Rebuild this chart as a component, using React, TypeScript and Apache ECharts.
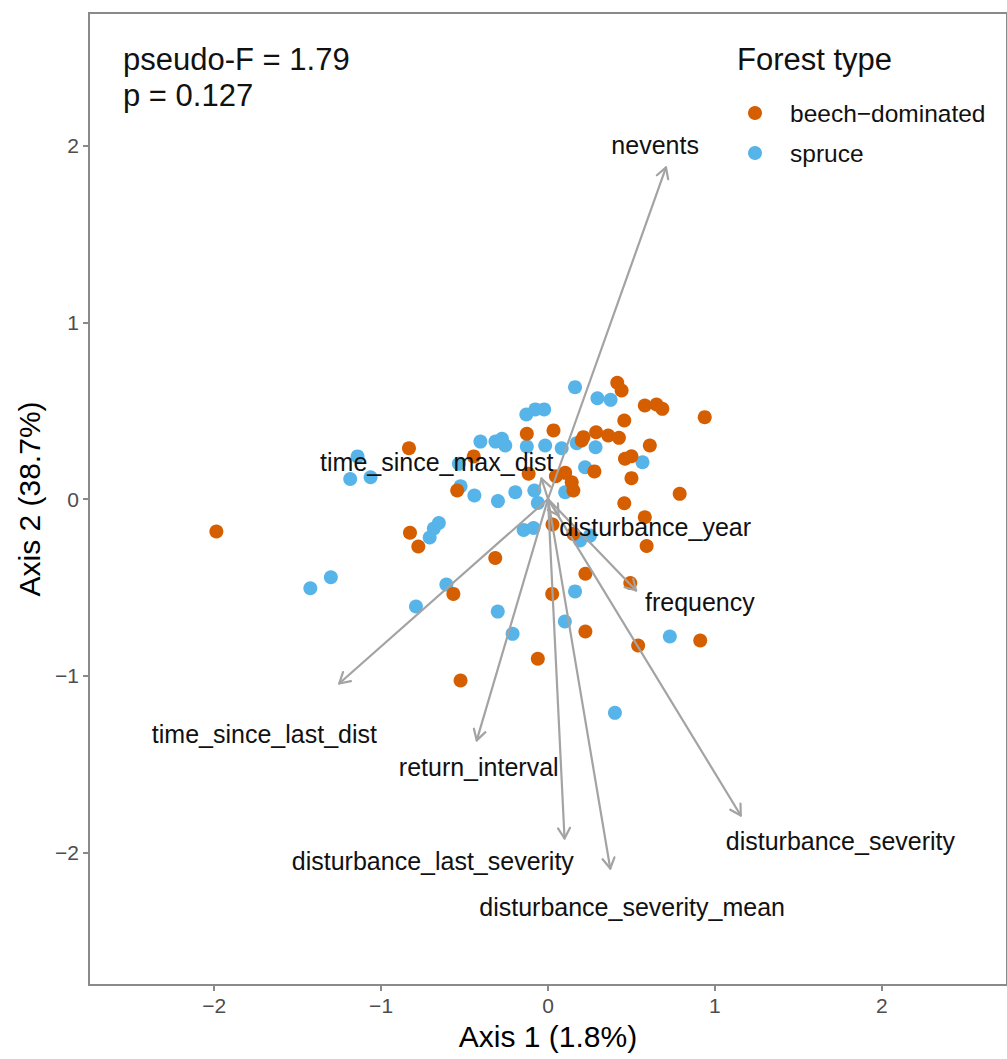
import React, { useEffect, useRef } from "react";
import * as echarts from "echarts";

// ---- Data ----
const beechX = [0.415, 0.441, 0.580, 0.650, 0.685, 0.939, 0.457, -0.127, 0.033, 0.202, 0.212, 0.288, 0.361, 0.425, 0.610, -0.833, -0.445, 0.461, 0.500, -0.116, 0.047, 0.103, 0.142, 0.152, 0.278, 0.500, 0.789, -0.544, 0.457, 0.580, 0.591, 0.027, 0.152, -0.827, -0.777, -0.316, -0.567, 0.224, 0.493, 0.025, 0.224, 0.540, 0.912, -0.061, -0.524, -1.987];
const beechY = [0.658, 0.614, 0.529, 0.535, 0.510, 0.463, 0.444, 0.369, 0.388, 0.331, 0.350, 0.378, 0.359, 0.346, 0.303, 0.287, 0.241, 0.228, 0.242, 0.143, 0.129, 0.148, 0.095, 0.048, 0.156, 0.118, 0.029, 0.048, -0.024, -0.103, -0.266, -0.144, -0.197, -0.191, -0.269, -0.334, -0.537, -0.423, -0.475, -0.537, -0.750, -0.829, -0.801, -0.904, -1.027, -0.184];

const spruceX = [0.162, 0.296, 0.375, -0.130, -0.076, -0.023, -0.405, -0.315, -0.276, -0.256, -0.127, -0.017, 0.082, 0.172, 0.285, 0.566, -0.524, -0.441, -0.300, -0.196, -0.082, -0.061, 0.103, 0.222, -0.654, -0.684, -0.709, -0.146, -0.087, 0.192, 0.252, -0.609, -0.791, -0.301, 0.162, 0.101, -0.534, -1.141, -1.185, -1.063, -1.301, -1.424, -0.212, 0.730, 0.401];
const spruceY = [0.633, 0.570, 0.561, 0.478, 0.507, 0.507, 0.325, 0.325, 0.341, 0.303, 0.297, 0.303, 0.287, 0.316, 0.293, 0.208, 0.072, 0.020, -0.012, 0.038, 0.048, -0.022, 0.038, 0.180, -0.136, -0.167, -0.218, -0.175, -0.164, -0.235, -0.207, -0.484, -0.608, -0.637, -0.523, -0.693, 0.199, 0.241, 0.113, 0.123, -0.443, -0.505, -0.763, -0.778, -1.210];

const arrowNames = ["nevents", "time_since_max_dist", "disturbance_year", "frequency", "time_since_last_dist", "return_interval", "disturbance_last_severity", "disturbance_severity_mean", "disturbance_severity"];
const arrowX = [0.707, -0.039, 0.063, 0.528, -1.251, -0.427, 0.099, 0.373, 1.155];
const arrowY = [1.876, 0.116, -0.093, -0.518, -1.044, -1.366, -1.921, -2.091, -1.791];
const labelX = [0.642, -0.666, 0.642, 0.910, -1.699, -0.415, -0.690, 0.504, 1.752];
const labelY = [2.001, 0.207, -0.161, -0.580, -1.327, -1.519, -2.046, -2.306, -1.938];

const tickValues = [-2, -1, 0, 1, 2];
const groupNames = ["beech\u2212dominated", "spruce"];
const statLines = ["pseudo-F = 1.79", "p = 0.127"];
const legendTitle = "Forest type";
const xTitle = "Axis 1 (1.8%)";
const yTitle = "Axis 2 (38.7%)";

const FONT = "Liberation Sans, Arial, Helvetica, sans-serif";
const ORANGE = "#D55E00";
const BLUE = "#56B4E9";
const ARROW = "#A3A3A3";

const fmt = (v: number) => (v < 0 ? "\u2212" + Math.abs(v) : String(v));

export default function App() {
  const ref = useRef<HTMLDivElement>(null);
  useEffect(() => {
    const chart = echarts.init(ref.current!, null, { renderer: "svg" });
    const zip = (xs: number[], ys: number[]) => xs.map((x, i) => [x, ys[i]]);
    const axisCommon = {
      type: "value", min: -2.75, max: 2.75,
      splitLine: { show: false },
      axisLine: { show: false, onZero: false },
      axisTick: { show: true, length: 6, customValues: tickValues, lineStyle: { color: "#8a8a8a", width: 2 } },
      axisLabel: { customValues: tickValues, formatter: fmt, color: "#4D4D4D", fontSize: 21, fontFamily: FONT, margin: 10 },
      nameLocation: "middle",
      nameTextStyle: { color: "#000", fontSize: 30, fontFamily: FONT },
    };
    const option: any = {
      animation: false,
      backgroundColor: "#ffffff",
      grid: {
        left: 89, top: 13, width: 921, height: 972,
        show: true, borderColor: "#8a8a8a", borderWidth: 2, backgroundColor: "transparent",
      },
      xAxis: { ...axisCommon, name: xTitle, nameGap: 36 },
      yAxis: { ...axisCommon, name: yTitle, nameGap: 40, nameRotate: 90 },
      series: [
        {
          type: "scatter", name: groupNames[1], data: zip(spruceX, spruceY),
          symbolSize: 14, itemStyle: { color: BLUE, opacity: 1 }, z: 2,
        },
        {
          type: "scatter", name: groupNames[0], data: zip(beechX, beechY),
          symbolSize: 14, itemStyle: { color: ORANGE, opacity: 1 }, z: 2,
        },
        {
          type: "custom", z: 3,
          data: zip(arrowX, arrowY),
          renderItem: (params: any, api: any) => {
            const s = api.coord([0, 0]);
            const e = api.coord([api.value(0), api.value(1)]);
            const ang = Math.atan2(e[1] - s[1], e[0] - s[0]);
            const L = 12, a = Math.PI / 6;
            const p1 = [e[0] - L * Math.cos(ang - a), e[1] - L * Math.sin(ang - a)];
            const p2 = [e[0] - L * Math.cos(ang + a), e[1] - L * Math.sin(ang + a)];
            const st = { stroke: ARROW, lineWidth: 2.2, fill: "none", lineJoin: "round", lineCap: "round" };
            return {
              type: "group",
              children: [
                { type: "line", shape: { x1: s[0], y1: s[1], x2: e[0], y2: e[1] }, style: st },
                { type: "polyline", shape: { points: [p1, e, p2] }, style: st },
              ],
            };
          },
        },
        {
          type: "custom", z: 4,
          data: labelX.map((x, i) => [x, labelY[i], arrowNames[i]]),
          renderItem: (params: any, api: any) => {
            const p = api.coord([api.value(0), api.value(1)]);
            return {
              type: "text",
              style: {
                text: arrowNames[params.dataIndex], x: p[0], y: p[1],
                align: "center", verticalAlign: "middle",
                fontSize: 25, fontFamily: FONT, fill: "#111",
              },
            };
          },
        },
      ],
      graphic: [
        { type: "text", x: 123, y: 59, style: { text: statLines[0], fontSize: 31, fontFamily: FONT, fill: "#111", verticalAlign: "middle" } },
        { type: "text", x: 123, y: 95, style: { text: statLines[1], fontSize: 31, fontFamily: FONT, fill: "#111", verticalAlign: "middle" } },
        { type: "text", x: 737, y: 59, style: { text: legendTitle, fontSize: 31, fontFamily: FONT, fill: "#111", verticalAlign: "middle" } },
        { type: "circle", shape: { cx: 755, cy: 113, r: 7 }, style: { fill: ORANGE } },
        { type: "circle", shape: { cx: 755, cy: 153, r: 7 }, style: { fill: BLUE } },
        { type: "text", x: 790, y: 113, style: { text: groupNames[0], fontSize: 24.5, fontFamily: FONT, fill: "#111", verticalAlign: "middle" } },
        { type: "text", x: 790, y: 153, style: { text: groupNames[1], fontSize: 24.5, fontFamily: FONT, fill: "#111", verticalAlign: "middle" } },
      ],
    };
    chart.setOption(option);
    return () => chart.dispose();
  }, []);
  return <div ref={ref} style={{ position: "absolute", left: 0, top: 0, width: 1007, height: 1059 }} />;
}
